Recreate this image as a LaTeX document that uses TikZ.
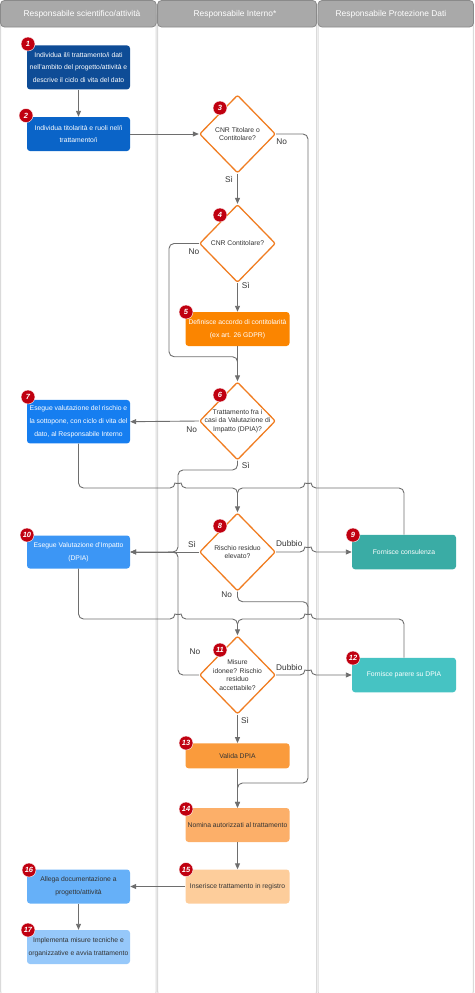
\documentclass[tikz,border=0pt]{standalone}
\usepackage{fontspec}
\setmainfont{Liberation Sans}
\usetikzlibrary{shapes.geometric,arrows.meta}
\definecolor{cA}{HTML}{0E4C96}
\definecolor{cB}{HTML}{0A64C8}
\definecolor{cC}{HTML}{167EF0}
\definecolor{cD}{HTML}{3C96F5}
\definecolor{cE}{HTML}{66B0F8}
\definecolor{cF}{HTML}{96C8FA}
\definecolor{oA}{HTML}{FB8500}
\definecolor{oB}{HTML}{FA9B3C}
\definecolor{oC}{HTML}{FCAF69}
\definecolor{oD}{HTML}{FDCD9B}
\definecolor{tA}{HTML}{3AACA5}
\definecolor{tB}{HTML}{46C3C3}
\definecolor{dstroke}{HTML}{F07D22}
\definecolor{linegray}{HTML}{6E6E6E}
\definecolor{lanegray}{HTML}{DADADA}
\definecolor{headfill}{HTML}{A9A9A9}
\definecolor{headdraw}{HTML}{8A8A8A}
\definecolor{badgered}{HTML}{C00010}
\definecolor{darktext}{HTML}{333333}
\tikzset{
  lanebody/.style={draw=lanegray, line width=1pt, rounded corners=6pt},
  lanehead/.style={draw=headdraw, fill=headfill, line width=0.8pt, rounded corners=4pt},
  headtext/.style={text=white, font=\fontsize{8.4}{10}\selectfont, inner sep=0pt},
  box/.style={rectangle, rounded corners=3pt, inner sep=0.5pt, align=center,
    font=\fontsize{6.8}{12.7}\selectfont, text=white, minimum width=103pt},
  dia/.style={diamond, draw=dstroke, fill=white, line width=1.3pt, rounded corners=2pt,
    minimum width=76pt, minimum height=78pt, inner sep=0pt},
  diatext/.style={align=center, font=\fontsize{6.8}{8.6}\selectfont, text=darktext, inner sep=0pt},
  badge/.style={circle, fill=badgered, draw=white, line width=0.4pt, minimum size=14pt, inner sep=0pt,
    text=white, font=\fontsize{7.5}{8}\selectfont\bfseries\itshape},
  lbl/.style={font=\fontsize{8.3}{10}\selectfont, text=darktext, inner sep=0pt},
  conn/.style={draw=linegray, line width=0.9pt, rounded corners=5pt},
  arr/.style={conn, -{Triangle[width=5pt,length=6pt]}},
}
\begin{document}
\begin{tikzpicture}[x=1pt,y=-1pt]
\useasboundingbox (0,0) rectangle (474,993);
% lanes
\draw[lanebody] (0.6,10) rectangle (156.2,997);
\draw[lanebody] (157.6,10) rectangle (316.6,997);
\draw[lanebody] (318,10) rectangle (473.4,997);
\draw[lanehead] (0.5,0.5) rectangle (156.2,27);
\draw[lanehead] (157.6,0.5) rectangle (316.6,27);
\draw[lanehead] (318,0.5) rectangle (473.5,27);
\node[headtext] (h1) at (82,14) {Responsabile scientifico/attività};
\node[headtext] (h2) at (235,14) {Responsabile Interno*};
\node[headtext] (h3) at (391,14) {Responsabile Protezione Dati};

% nodes
\node[box, fill=cA, minimum height=44pt] (n1) at (78.5,67.4) {Individua il/i trattamento/i dati\\nell'ambito del progetto/attività e\\descrive il ciclo di vita del dato};
\node[box, fill=cB, minimum height=34pt] (n2) at (78.5,134) {Individua titolarità e ruoli nel/i\\trattamento/i};
\node[dia] (d3) at (237.5,134) {};
\node[diatext] (t3) at (d3) {CNR Titolare o\\Contitolare?};
\node[dia] (d4) at (237.5,243.5) {};
\node[diatext] (t4) at (d4) {CNR Contitolare?};
\node[box, fill=oA, minimum width=104pt, minimum height=34pt] (n5) at (237.5,329) {Definisce accordo di contitolarità\\(ex art. 26 GDPR)};
\node[dia] (d6) at (237.5,421) {};
\node[diatext] (t6) at (d6) {Trattamento fra i\\casi da Valutazione di\\Impatto (DPIA)?};
\node[box, fill=cC, minimum height=43.5pt] (n7) at (78.5,421.7) {Esegue valutazione del rischio e\\la sottopone, con ciclo di vita del\\dato, al Responsabile Interno};
\node[dia] (d8) at (237.5,552) {};
\node[diatext] (t8) at (d8) {Rischio residuo\\elevato?};
\node[box, fill=tA, minimum width=104pt, minimum height=34.5pt] (n9) at (404,552) {Fornisce consulenza};
\node[box, fill=cD, minimum height=33pt] (n10) at (78.5,552) {Esegue Valutazione d'Impatto\\(DPIA)};
\node[dia] (d11) at (237.5,675) {};
\node[diatext] (t11) at (d11) {Misure\\idonee? Rischio\\residuo\\accettabile?};
\node[box, fill=tB, minimum width=104pt, minimum height=34.5pt] (n12) at (404,675) {Fornisce parere su DPIA};
\node[box, fill=oB, text=darktext, minimum width=104pt, minimum height=25pt] (n13) at (237.5,755.8) {Valida DPIA};
\node[box, fill=oC, text=darktext, minimum width=104pt, minimum height=34pt] (n14) at (237.5,825) {Nomina autorizzati al trattamento};
\node[box, fill=oD, text=darktext, minimum width=104pt, minimum height=34pt] (n15) at (237.5,886.5) {Inserisce trattamento in registro};
\node[box, fill=cE, text=darktext, minimum height=34pt] (n16) at (78.5,886.5) {Allega documentazione a\\progetto/attività};
\node[box, fill=cF, text=darktext, minimum height=34pt] (n17) at (78.5,947) {Implementa misure tecniche e\\organizzative e avvia trattamento};

% connectors
\draw[arr] (n1.south) -- (n2.north);
\draw[arr] (n2.east) -- (d3.west);
\draw[arr] (d3.south) -- (d4.north);
\draw[arr] (d3.east) -- (308,134) -- (308,783) -- (237.5,783) -- (n14.north);
\draw[arr] (d4.south) -- (n5.north);
\draw[conn] (d4.west) -- (169,243.5) -- (169,356.7) -- (237.5,356.7) -- (237.5,368);
\draw[arr] (n5.south) -- (d6.north);
\draw[arr] (d6.west) -- (n7.east);
\draw[arr] (d6.south) -- (237.5,470) -- (178,470) -- (178,552) -- (n10.east);
\draw[arr] (n7.south) -- (78.5,488) -- (175,488) .. controls (175,483.5) and (181,483.5) .. (181,488) -- (237.5,488) -- (d8.north);
\draw[conn] (n9.north) -- (404,488) -- (311,488) .. controls (311,483.5) and (305,483.5) .. (305,488) -- (237.5,488) -- (237.5,500);
\draw[arr] (d8.west) -- (n10.east);
\draw[arr] (d8.east) -- (305,552) .. controls (305,547.5) and (311,547.5) .. (311,552) -- (n9.west);
\draw[conn] (d8.south) -- (237.5,601.7) -- (308,601.7) -- (308,615);
\draw[arr] (n10.south) -- (78.5,619) -- (175,619) .. controls (175,614.5) and (181,614.5) .. (181,619) -- (237.5,619) -- (d11.north);
\draw[conn] (n12.north) -- (404,619) -- (311,619) .. controls (311,614.5) and (305,614.5) .. (305,619) -- (237.5,619) -- (237.5,630);
\draw[conn] (d11.west) -- (178,675) -- (178,552) -- (168,552);
\draw[arr] (d11.east) -- (305,675) .. controls (305,670.5) and (311,670.5) .. (311,675) -- (n12.west);
\draw[arr] (d11.south) -- (n13.north);
\draw[arr] (n13.south) -- (n14.north);
\draw[arr] (n14.south) -- (n15.north);
\draw[arr] (n15.west) -- (n16.east);
\draw[arr] (n16.south) -- (n17.north);

% labels
\node[lbl] (l3s) at (229,179.3) {Sì};
\node[lbl] (l3n) at (281.7,141.3) {No};
\node[lbl] (l4n) at (194,251.7) {No};
\node[lbl] (l4s) at (245.7,285) {Sì};
\node[lbl] (l6n) at (191.7,429.3) {No};
\node[lbl] (l6s) at (245.7,465.7) {Sì};
\node[lbl] (l8s) at (192,544) {Sì};
\node[lbl] (l8d) at (289.3,544) {Dubbio};
\node[lbl] (l8n) at (226.7,595) {No};
\node[lbl] (l11n) at (195,651.7) {No};
\node[lbl] (l11d) at (289.3,667.3) {Dubbio};
\node[lbl] (l11s) at (245,720.7) {Sì};

% badges
\node[badge] (b1) at (28,44) {1};
\node[badge] (b2) at (26,115.5) {2};
\node[badge] (b3) at (220,108) {3};
\node[badge] (b4) at (220,215) {4};
\node[badge] (b5) at (186,312) {5};
\node[badge] (b6) at (220,395) {6};
\node[badge] (b7) at (28,397) {7};
\node[badge] (b8) at (220,526) {8};
\node[badge] (b9) at (353,535) {9};
\node[badge] (b10) at (27,535) {10};
\node[badge] (b11) at (220,650) {11};
\node[badge] (b12) at (353,658) {12};
\node[badge] (b13) at (186,743) {13};
\node[badge] (b14) at (186,809) {14};
\node[badge] (b15) at (186,869.5) {15};
\node[badge] (b16) at (29,870) {16};
\node[badge] (b17) at (28,930) {17};
\end{tikzpicture}
\end{document}
